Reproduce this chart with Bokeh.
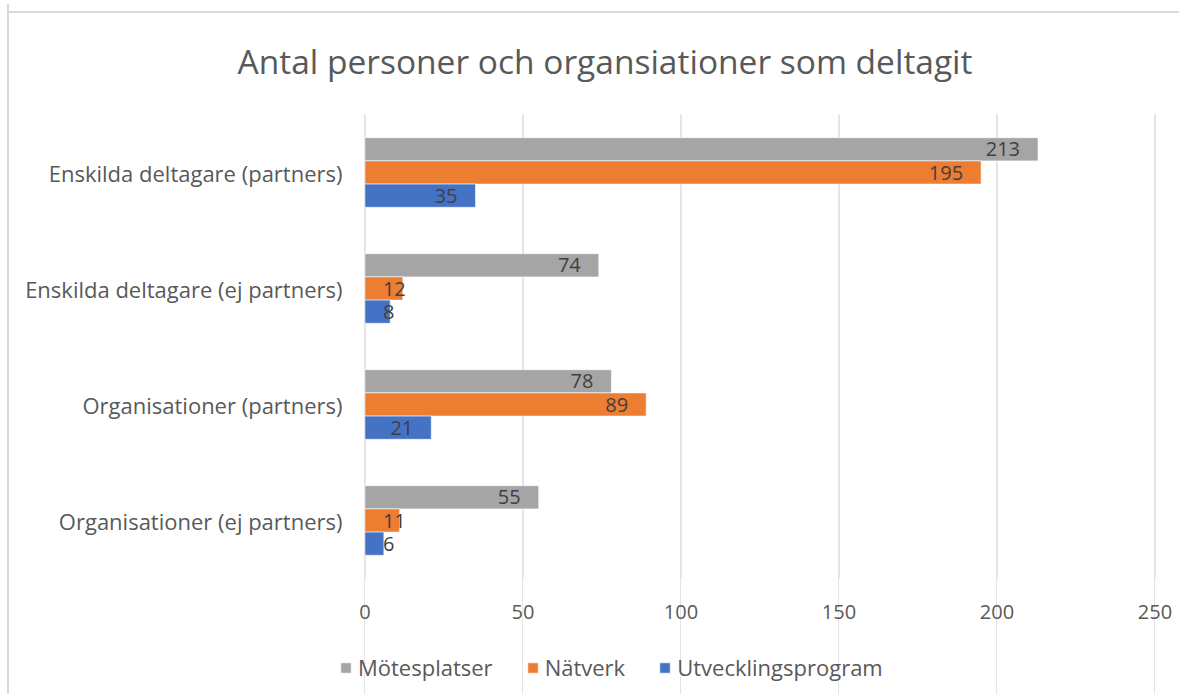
from bokeh.plotting import figure
from bokeh.models import ColumnDataSource, Legend, LegendItem, Title, FactorRange, LinearAxis, FixedTicker
from bokeh.transform import dodge
from bokeh.core.properties import value
from bokeh.embed import file_html
from bokeh.resources import INLINE

title_text = "Antal personer och organsiationer som deltagit"
categories = [
    "Enskilda deltagare (partners)",
    "Enskilda deltagare (ej partners)",
    "Organisationer (partners)",
    "Organisationer (ej partners)",
]
series_names = ["Mötesplatser", "Nätverk", "Utvecklingsprogram"]
motesplatser = [213, 74, 78, 55]
natverk = [195, 12, 89, 11]
utvecklingsprogram = [35, 8, 21, 6]
series_values = [motesplatser, natverk, utvecklingsprogram]
colors = ["#A5A5A5", "#ED7D31", "#4472C4"]
x_ticks = [0, 50, 100, 150, 200, 250]

FONT = "Open Sans"
X_START, X_END = -15, 256.5
FRAME_W = 858
PX_PER_UNIT = FRAME_W / float(X_END - X_START)

# a blank row at the bottom gives room for the axis labels and the legend inside the frame
LEGEND_ROW = " "
factors = [LEGEND_ROW] + list(reversed(categories))
axis_pos = 1.0                      # boundary between the blank row and the category rows
top_pos = float(len(factors))

p = figure(
    y_range=FactorRange(factors=factors, range_padding=0),
    x_range=(X_START, X_END),
    frame_width=FRAME_W, frame_height=116 * len(factors),
    min_border_left=308, min_border_right=4,
    min_border_top=110, min_border_bottom=0,
    x_axis_location=None,
    output_backend="svg", toolbar_location=None,
    background_fill_color="white", border_fill_color="white",
    outline_line_color=None,
)
p.styles = {"border-left": "2px solid #d9d9d9", "margin-top": "4px", "margin-left": "7px"}
p.stylesheets = [":host::before { content: ''; position: absolute; top: 7px; left: 0; width: 100%; height: 2px; background: #d9d9d9; z-index: 10; }"]

t = Title(text=title_text, align="left", offset=-80,
          text_font=FONT, text_font_size="33.5px", text_font_style="normal",
          text_color="#595959", standoff=62)
p.add_layout(t, "above")

# vertical grid lines over the category rows only
p.segment(x0=x_ticks, x1=x_ticks, y0=[axis_pos] * len(x_ticks), y1=[top_pos] * len(x_ticks),
          line_color="#d9d9d9", line_width=1.5, level="underlay")

offsets = [0.2, 0.0, -0.2]
renderers = []
for name, vals, col, off in zip(series_names, series_values, colors, offsets):
    anchors, aligns, xoffs = [], [], []
    for v in vals:
        w = 12 * len(str(v))
        if v * PX_PER_UNIT - 18 - w >= 18:
            anchors.append(v); aligns.append("right"); xoffs.append(-18)
        else:
            anchors.append(0); aligns.append("left"); xoffs.append(18)
    src = ColumnDataSource(dict(cat=categories, val=vals, lab=[str(v) for v in vals],
                                anchor=anchors, align=aligns, xoff=xoffs))
    r = p.hbar(y=dodge("cat", off, range=p.y_range), right="val", left=0, height=0.2,
               source=src, fill_color=col, line_color="white", line_width=0.6)
    renderers.append(r)
    p.text(x="anchor", y=dodge("cat", off, range=p.y_range), text="lab", source=src,
           text_align="align", x_offset="xoff", text_baseline="middle",
           text_font=value(FONT), text_font_size="20px", text_color="#404040")

xaxis = LinearAxis(fixed_location=axis_pos, ticker=FixedTicker(ticks=x_ticks),
                   axis_line_color=None, major_tick_line_color=None, minor_tick_line_color=None,
                   major_label_standoff=20, major_label_text_font=FONT,
                   major_label_text_font_size="20px", major_label_text_color="#595959")
p.add_layout(xaxis, "below")

legend = Legend(items=[LegendItem(label=n, renderers=[r]) for n, r in zip(series_names, renderers)],
                orientation="horizontal", location=(22, 12),
                label_text_font=FONT, label_text_font_size="22px", label_text_color="#595959",
                glyph_width=13, glyph_height=13, label_standoff=6, spacing=33,
                border_line_color=None, background_fill_alpha=0, padding=0, margin=0)
p.add_layout(legend, "center")

p.yaxis.axis_line_color = None
p.yaxis.major_tick_line_color = None
p.yaxis.minor_tick_line_color = None
p.yaxis.major_label_standoff = -31
p.yaxis.major_label_text_font = FONT
p.yaxis.major_label_text_font_size = "22px"
p.yaxis.major_label_text_color = "#595959"

p.ygrid.grid_line_color = None

open("out.html", "w").write(file_html(p, INLINE))
